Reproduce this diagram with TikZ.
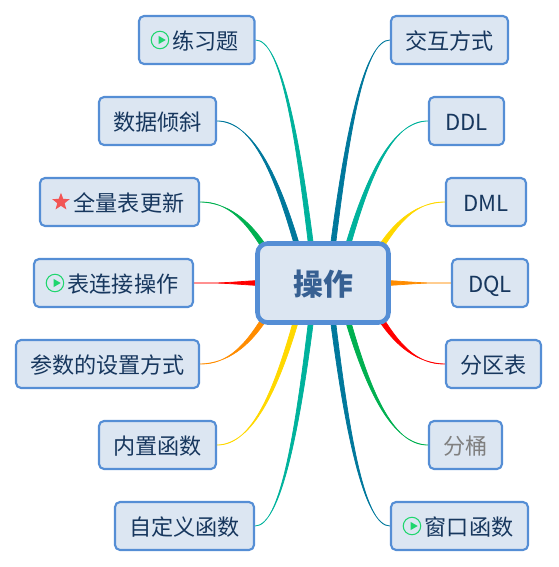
\documentclass[tikz,border=0pt]{standalone}
\usepackage{fontspec}
\setmainfont{Noto Sans CJK SC}
\usetikzlibrary{calc,backgrounds,shapes.geometric}

\definecolor{boxfill}{HTML}{DCE6F2}
\definecolor{boxline}{HTML}{558ED5}
\definecolor{topictext}{HTML}{17375E}
\definecolor{hubtext}{HTML}{376092}
\definecolor{teal}{HTML}{00B29C}
\definecolor{petrol}{HTML}{00789C}
\definecolor{leaf}{HTML}{00B050}
\definecolor{sun}{HTML}{FFD800}
\definecolor{amber}{HTML}{FF8C00}
\definecolor{scarlet}{HTML}{FF0000}
\definecolor{playgreen}{HTML}{1FD66E}
\definecolor{starred}{HTML}{F25555}

% tapered branch: colour, start on the hub, end on the topic
\newcommand{\branch}[3]{
  \path let \p1=(#3), \p2=(#2), \n1={\x2-\x1}, \n2={\y2-\y1} in
    coordinate (ca) at (\x1+0.45*\n1,\y1)
    coordinate (cb) at (\x2-0.25*\n1,\y2-0.55*\n2);
  \coordinate (sa) at ($(#2)!1.4pt!90:(cb)$);
  \coordinate (sb) at ($(#2)!1.4pt!-90:(cb)$);
  \coordinate (cba) at ($(cb)!1.1pt!-90:(#2)$);
  \coordinate (cbb) at ($(cb)!1.1pt!90:(#2)$);
  \coordinate (caa) at ($(ca)!0.4pt!-90:(#3)$);
  \coordinate (cab) at ($(ca)!0.4pt!90:(#3)$);
  \filldraw[#1, line width=0.4pt] (#3) .. controls (caa) and (cba) .. (sa) -- (sb) .. controls (cbb) and (cab) .. (#3) -- cycle;
}

% ring with a triangle in it
\newcommand{\playicon}[2]{
  \node[playring] (#1ring) at #2 {};
  \node[playtri] (#1tri) at ($(#1ring)+(1,0)$) {};
}

\begin{document}
\begin{tikzpicture}[x=0.02cm, y=-0.02cm,
  topic/.style = {draw=boxline, fill=boxfill, line width=1.2pt, rounded corners=0.1cm, minimum height=0.96cm, inner sep=0pt, text=topictext, text height=12.6pt, text depth=2pt, font=\fontsize{12.6}{15}\selectfont},
  hub/.style = {draw=boxline, fill=boxfill, line width=2.6pt, rounded corners=0.2cm, minimum width=2.62cm, minimum height=1.58cm, inner sep=0pt, text=hubtext, text height=17.6pt, text depth=3pt, font=\fontsize{17}{20}\selectfont\bfseries},
  playring/.style = {circle, draw=playgreen, line width=0.6pt, minimum size=0.35cm, inner sep=0pt},
  playtri/.style = {regular polygon, regular polygon sides=3, shape border rotate=-90, fill=playgreen, minimum size=0.19cm, inner sep=0pt},
  starmark/.style = {star, star points=5, star point ratio=2.4, fill=starred, minimum size=0.37cm, inner sep=0pt}]

\useasboundingbox (0,0) rectangle (558,567);

% Hub
\node[hub] (hub) at (323,283) {操作};

% Left
\node[topic, minimum width=2.31cm] (lianxi) at (196.75,40) {\hspace{0.36cm}练习题};
\node[topic, minimum width=2.34cm] (qingxie) at (157.5,121) {数据倾斜};
\node[topic, minimum width=3.18cm] (gengxin) at (119.5,202) {\hspace{0.38cm}全量表更新};
\node[topic, minimum width=3.18cm] (lianjie) at (113.5,283) {\hspace{0.38cm}表连接操作};
\node[topic, minimum width=3.66cm] (canshu) at (107.5,364) {参数的设置方式};
\node[topic, minimum width=2.34cm] (neizhi) at (157.5,445) {内置函数};
\node[topic, minimum width=2.78cm] (zidingyi) at (184.5,526) {自定义函数};

% Right
\node[topic, minimum width=2.34cm] (jiaohu) at (449.5,40) {交互方式};
\node[topic, minimum width=1.5cm] (ddl) at (466.5,121) {DDL};
\node[topic, minimum width=1.6cm] (dml) at (486,202) {DML};
\node[topic, minimum width=1.52cm] (dql) at (490,283) {DQL};
\node[topic, minimum width=1.9cm] (fenqu) at (493.5,364) {分区表};
\node[topic, minimum width=1.46cm, text=gray] (fentong) at (465.5,445) {分桶};
\node[topic, minimum width=2.74cm] (chuangkou) at (459.5,526) {\hspace{0.38cm}窗口函数};

% Icons
\playicon{lianxi}{($(lianxi.west)+(22,0)$)}
\playicon{lianjie}{($(lianjie.west)+(22,0)$)}
\playicon{chuangkou}{($(chuangkou.west)+(22,0)$)}
\node[starmark] (gengxinstar) at ($(gengxin.west)+(22,0)$) {};

% Branches
\begin{pgfonlayer}{background}
\branch{teal}{$(hub.north)+(-12,4)$}{lianxi.east}
\branch{petrol}{$(hub.north)+(-26,4)$}{qingxie.east}
\branch{leaf}{$(hub.north)+(-60,4)$}{gengxin.east}
\branch{scarlet}{$(hub.west)+(4,0)$}{lianjie.east}
\branch{amber}{$(hub.south)+(-60,-4)$}{canshu.east}
\branch{sun}{$(hub.south)+(-27,-4)$}{neizhi.east}
\branch{teal}{$(hub.south)+(-12,-4)$}{zidingyi.east}
\branch{petrol}{$(hub.north)+(10,4)$}{jiaohu.west}
\branch{teal}{$(hub.north)+(25,4)$}{ddl.west}
\branch{sun}{$(hub.north)+(59,4)$}{dml.west}
\branch{amber}{$(hub.east)+(-4,0)$}{dql.west}
\branch{scarlet}{$(hub.south)+(59,-4)$}{fenqu.west}
\branch{leaf}{$(hub.south)+(25,-4)$}{fentong.west}
\branch{petrol}{$(hub.south)+(10,-4)$}{chuangkou.west}
\end{pgfonlayer}

\end{tikzpicture}
\end{document}
